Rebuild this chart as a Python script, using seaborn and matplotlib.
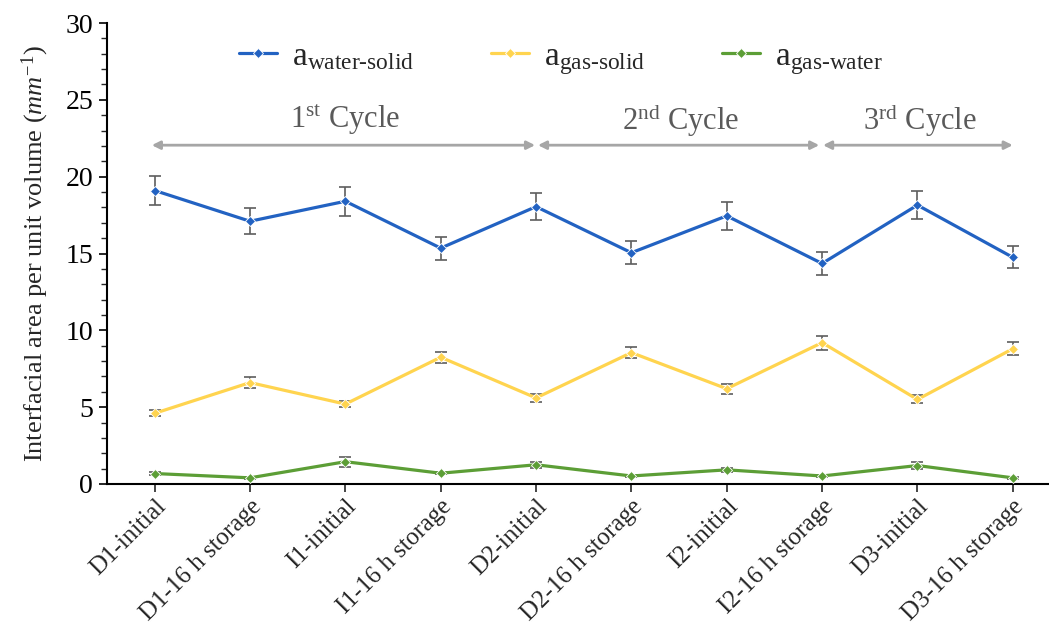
import numpy as np
import pandas as pd
import matplotlib
matplotlib.use("Agg")
import matplotlib.pyplot as plt
import seaborn as sns

# Sample states along the drying / imbibition cycles
categories = ["D1-initial", "D1-16 h storage", "I1-initial", "I1-16 h storage",
              "D2-initial", "D2-16 h storage", "I2-initial", "I2-16 h storage",
              "D3-initial", "D3-16 h storage"]

# Interfacial area per unit volume (mm^-1) and standard deviations
water_solid = [19.1, 17.1, 18.4, 15.35, 18.05, 15.05, 17.45, 14.35, 18.15, 14.75]
water_solid_err = [0.95, 0.85, 0.95, 0.75, 0.9, 0.75, 0.9, 0.72, 0.9, 0.72]
gas_solid = [4.6, 6.6, 5.2, 8.25, 5.6, 8.55, 6.2, 9.2, 5.5, 8.8]
gas_solid_err = [0.2, 0.33, 0.22, 0.35, 0.25, 0.38, 0.32, 0.45, 0.26, 0.42]
gas_water = [0.68, 0.4, 1.45, 0.7, 1.25, 0.52, 0.92, 0.52, 1.2, 0.4]
gas_water_err = [0.08, 0.05, 0.32, 0.08, 0.18, 0.05, 0.12, 0.05, 0.2, 0.05]

series_labels = [r"a$_{\mathregular{water\text{-}solid}}$",
                 r"a$_{\mathregular{gas\text{-}solid}}$",
                 r"a$_{\mathregular{gas\text{-}water}}$"]
colors = ["#2262C2", "#FFD44F", "#5C9E36"]

cycle_labels = [r"1$^{\mathregular{st}}$ Cycle", r"2$^{\mathregular{nd}}$ Cycle",
                r"3$^{\mathregular{rd}}$ Cycle"]
cycle_spans = [(-0.03, 3.99), (4.02, 6.97), (7.01, 9.0)]
cycle_text_x = [2.0, 5.52, 8.03]

sns.set_theme(style="ticks")
plt.rcParams["font.family"] = ["Liberation Serif", "DejaVu Serif"]
plt.rcParams["mathtext.fontset"] = "custom"
plt.rcParams["mathtext.rm"] = "Liberation Serif"
plt.rcParams["mathtext.it"] = "Liberation Serif:italic"

df = pd.DataFrame({
    "state": categories * 3,
    "value": water_solid + gas_solid + gas_water,
    "series": sum([[s] * len(categories) for s in series_labels], []),
})

fig = plt.figure(figsize=(10.49, 6.31), dpi=100)
ax = fig.add_axes([0.102, 0.233, 0.898, 0.7305])

sns.lineplot(data=df, x="state", y="value", hue="series", palette=colors,
             hue_order=series_labels, marker="D", markersize=5,
             markeredgecolor="white", markeredgewidth=0.6, linewidth=2.3,
             sort=False, ax=ax, legend=True, zorder=3)

for vals, errs in [(water_solid, water_solid_err), (gas_solid, gas_solid_err),
                   (gas_water, gas_water_err)]:
    ax.errorbar(categories, vals, yerr=errs, fmt="none", ecolor="#5E5E5E",
                elinewidth=1.2, capsize=4, capthick=1.2, zorder=2)

ax.set_ylim(0, 30)
ax.set_xlim(-0.5, 9.38)
ax.set_yticks(np.arange(0, 31, 5))
ax.set_yticks(np.arange(0, 31, 1), minor=True)
ax.tick_params(axis="y", which="major", direction="out", length=6, width=1.2,
               labelsize=20, pad=4, colors="black")
ax.tick_params(axis="y", which="minor", direction="out", length=4, width=1.0,
               left=True)
ax.tick_params(axis="x", which="major", direction="out", length=6, width=1.2,
               labelsize=18, pad=2)
plt.setp(ax.get_xticklabels(), rotation=45, ha="right", rotation_mode="anchor")
for side in ["top", "right"]:
    ax.spines[side].set_visible(False)
for side in ["left", "bottom"]:
    ax.spines[side].set_color("black")
    ax.spines[side].set_linewidth(1.5)

ax.set_xlabel("")
ax.set_ylabel(r"Interfacial area per unit volume $(mm^{-1})$", fontsize=19,
              labelpad=10)

# Cycle spans
for (x0, x1), lab, tx in zip(cycle_spans, cycle_labels, cycle_text_x):
    ax.annotate("", xy=(x0, 22.05), xytext=(x1, 22.05),
                arrowprops=dict(arrowstyle="<|-|>", color="#A6A6A6", lw=2,
                                mutation_scale=12, shrinkA=0, shrinkB=0))
    ax.text(tx, 23.7, lab, ha="center", va="center", fontsize=22,
            color="#5A5A5A")

handles, labels = ax.get_legend_handles_labels()
ax.legend(handles, labels, loc="center", bbox_to_anchor=(0.482, 0.922),
          ncol=3, frameon=False, fontsize=24, handlelength=1.15,
          columnspacing=2.3, handletextpad=0.45)

fig.savefig("out.png", dpi=100)
